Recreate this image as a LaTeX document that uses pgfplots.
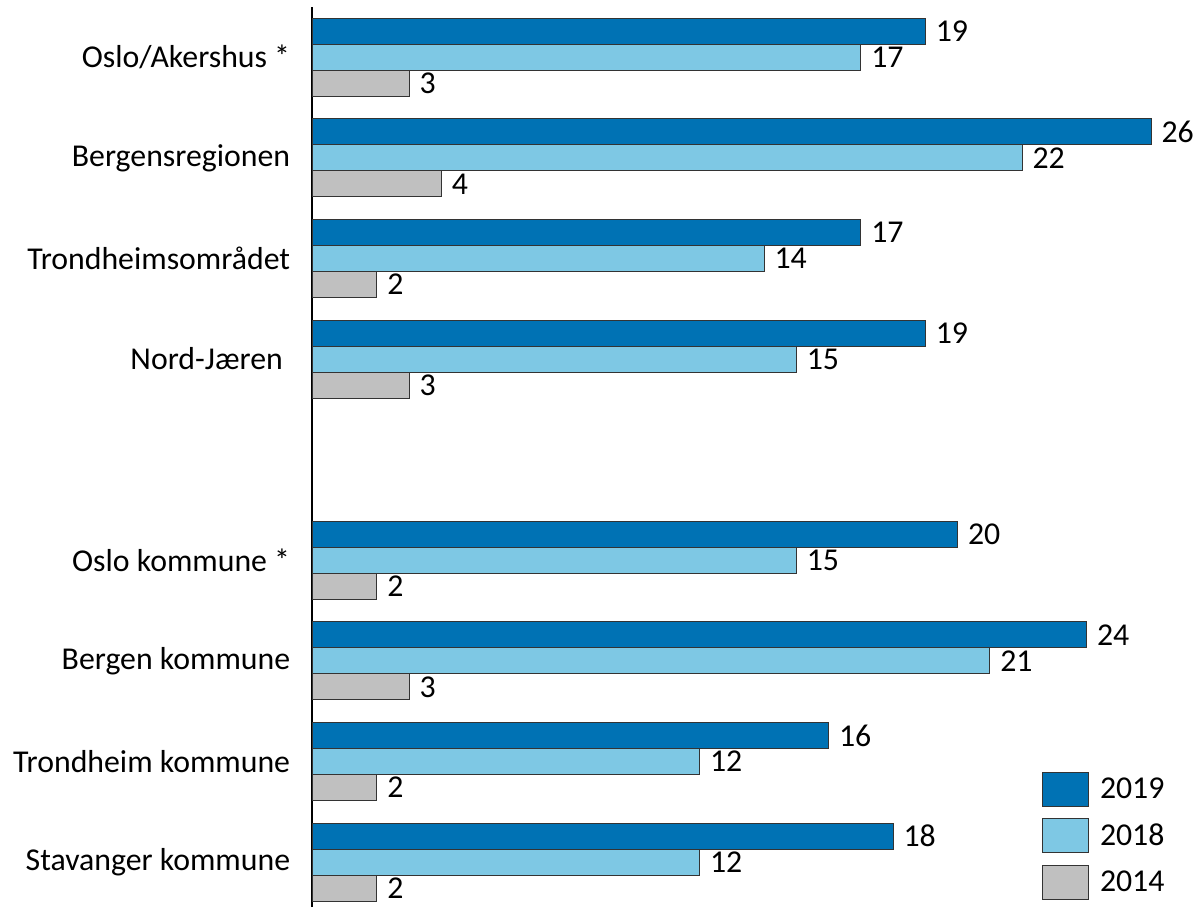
\documentclass[border=0pt]{standalone}
\usepackage{pgfplots}
\pgfplotsset{compat=1.18}
\usepackage{fontspec}
\setmainfont{Carlito}
\definecolor{c19}{RGB}{0,114,180}
\definecolor{c18}{RGB}{126,200,228}
\definecolor{c14}{RGB}{192,192,192}
\begin{document}
\begin{tikzpicture}[font=\fontsize{15.9}{19}\selectfont]
\path[use as bounding box] (0,0) rectangle (600pt,453.5pt);
\begin{axis}[
  at={(156.25pt,0pt)}, anchor=south west,
  x=16.125pt, y=50.3pt,
  xmin=0, xmax=27, ymin=-0.447, ymax=8.5,
  xbar, bar width=13pt,
  axis x line=none, xtick=\empty,
  axis y line*=left,
  y axis line style={line width=1pt, black},
  ytick={8,7,6,5,3,2,1,0},
  yticklabels={Oslo/Akershus *, Bergensregionen, Trondheimsområdet, Nord-Jæren\kern0.23em, Oslo kommune *, Bergen kommune, Trondheim kommune, Stavanger kommune},
  major tick length=0pt,
  yticklabel style={inner sep=0pt, xshift=-11pt, anchor=east},
  nodes near coords={\pgfmathprintnumber[assume math mode=true]{\pgfplotspointmeta}},
  nodes near coords style={anchor=west, inner sep=0pt, xshift=5pt, black},
  clip=false,
  legend cell align=left,
  legend style={draw=none, fill=none, inner sep=0pt, outer sep=0pt,
    at={(axis cs:22.62,-0.375)}, anchor=south west,
    row sep=5.75pt, column sep=5.5pt, nodes={inner sep=0pt}},
  legend image code/.code={\draw[#1, draw=black!80, line width=0.5pt] (0pt,-8.5pt) rectangle (23pt,8.5pt);},
]
\addplot[fill=c19, draw=black!80, line width=0.5pt, bar shift=13pt] coordinates {(19,8) (26,7) (17,6) (19,5) (20,3) (24,2) (16,1) (18,0)};
\addplot[fill=c18, draw=black!80, line width=0.5pt, bar shift=0pt] coordinates {(17,8) (22,7) (14,6) (15,5) (15,3) (21,2) (12,1) (12,0)};
\addplot[fill=c14, draw=black!80, line width=0.5pt, bar shift=-13pt] coordinates {(3,8) (4,7) (2,6) (3,5) (2,3) (3,2) (2,1) (2,0)};
\legend{2019,2018,2014}
\end{axis}
\end{tikzpicture}
\end{document}
